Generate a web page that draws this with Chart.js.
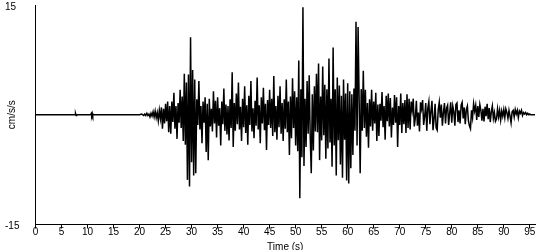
<!DOCTYPE html>
<html>
<head>
<meta charset="utf-8">
<script src="https://cdn.jsdelivr.net/npm/chart.js@4.4.1/dist/chart.umd.min.js"></script>
<style>
  body { margin: 0; background: #fff; }
  #wrap { width: 550px; height: 250px; }
</style>
</head>
<body>
<div id="wrap"><canvas id="myChart" width="550" height="250"></canvas></div>
<script>
// pre-event noise, read as (time, value) pairs
const quietTimes = [0, 7.6, 7.7, 7.8, 7.9, 10.6, 10.7, 10.8, 10.9, 11.0, 11.1, 20.0, 20.4, 20.8];
const quietValues = [0, 0, 0.15, -0.1, 0, 0, 0.15, -0.1, 0.2, -0.1, 0, 0, 0.1, -0.1];

// strong motion, one value every 0.2 s from 21 s
const strongStart = 21;
const strongStep = 0.2;
const strongValues = [
  0.1, -0.1, 0.2, -0.1, 0.1,
  -0.3, 0.2, -0.2, 0.4, -0.3,
  0.5, -0.4, 0.3, -0.8, 0.6,
  -0.5, 1.0, -1.9, 0.8, -1.2,
  1.5, -0.9, 1.8, -2.4, 1.2,
  -2.6, 1.8, -1.0, 3.0, -1.9,
  1.2, -3.3, 1.6, -1.1, 3.4,
  -1.8, 2.5, -3.6, 5.6, -4.1,
  4.4, -8.9, 5.5, -9.8, 10.6,
  -6.5, 6.1, -8.3, 4.8, -8.0,
  2.1, -1.4, 4.6, -2.0, 1.2,
  -3.9, 1.8, -1.1, 2.4, -5.1,
  1.5, -6.2, 2.2, -1.6, 0.8,
  -2.3, 3.2, -1.2, 1.9, -3.1,
  2.4, -1.5, 0.9, -4.2, 1.8,
  -1.3, 3.6, -2.2, 1.4, -2.7,
  1.2, -3.5, 2.1, -1.8, 5.8,
  -4.4, 1.6, -2.2, 2.9, -1.3,
  4.4, -2.0, 1.1, -3.6, 2.2,
  -1.7, 3.9, -2.5, 1.3, -4.1,
  2.6, -1.4, 4.6, -2.3, 0.9,
  -3.2, 1.9, -1.5, 5.1, -2.0,
  1.3, -3.9, 2.4, -1.2, 3.7,
  -2.1, 1.5, -4.8, 2.0, -1.4,
  3.4, -1.8, 2.2, -2.9, 5.3,
  -2.4, 1.2, -3.4, 2.6, -1.7,
  3.9, -2.6, 1.6, -3.6, 2.1,
  -1.9, 4.8, -2.4, 1.8, -5.5,
  2.5, -3.2, 5.0, -1.8, 3.2,
  -4.2, 2.4, -5.0, 7.4, -11.4,
  3.5, -5.8, 14.7, -7.0, 2.2,
  -4.4, 4.6, -2.6, 5.4, -3.0,
  -8.0, 2.8, -4.9, 3.9, -2.3,
  5.6, -2.4, 7.0, -6.2, 2.5,
  -3.5, 6.6, -2.8, 4.1, -6.0,
  3.5, -4.6, 7.7, -3.8, 2.2,
  -7.1, 9.2, -4.2, 3.5, -8.3,
  5.1, -3.5, 4.0, -6.8, 2.6,
  -8.6, 4.8, -3.4, 2.9, -9.0,
  4.3, -9.4, 3.2, -7.3, 2.8,
  -5.5, 3.6, -2.2, 12.7, -4.2,
  12.0, 2.2, -8.0, 3.5, -2.2,
  6.0, -1.8, 3.4, -3.0, 1.6,
  -4.5, 2.1, -1.6, 3.4, -2.2,
  1.8, -1.2, 3.0, -3.6, 1.4,
  -2.9, 1.5, -0.8, 3.1, -1.7,
  1.2, -3.4, 2.6, -0.9, 2.9,
  -1.6, 2.3, -3.1, 1.0, -1.4,
  2.7, -1.1, 2.4, -4.4, 1.2,
  -1.4, 2.9, -2.5, 1.6, -1.3,
  2.0, -2.5, 2.8, -1.8, 2.2,
  -2.0, 1.8, 0.6, 2.2, -1.6,
  -0.4, 1.9, -1.5, 0.3, -2.3,
  1.7, 0.8, 2.0, -1.4, -0.2,
  1.6, -2.2, 0.9, 1.8, -1.3,
  0.5, 1.9, -2.1, -0.6, 1.5,
  -1.8, -2.1, 0.7, 1.7, -0.4,
  1.4, -1.5, 0.3, 1.6, -1.2,
  0.9, 1.3, -1.4, 0.2, 1.7,
  -1.1, 1.2, 0.4, -1.5, 1.4,
  1.6, -1.0, 0.6, -1.2, 1.3,
  1.7, -0.5, 1.0, -1.3, 0.7,
  1.2, -0.8, -1.5, -1.9, 0.6,
  -0.4, 1.5, 0.5, 1.3, -0.7,
  1.2, -0.3, 1.4, 0.6, -0.8,
  0.8, -0.9, 1.1, -0.2, 1.5,
  -0.6, 0.9, -1.0, 0.4, 1.2,
  -0.5, 0.3, -0.9, -0.6, 0.8,
  -0.3, 0.6, -0.7, 0.5, -0.2,
  0.7, -0.4, 0.8, 0.3, -0.5,
  0.6, -0.2, -1.1, 0.4, 0.6,
  -0.3, 0.7, 0.1, 0.6, -0.4,
  0.5, 0.2, 0.6, -0.1, 0.3,
  0.1, 0.3, 0.0, 0.2, 0.0,
  0.1, 0.0, 0.0, 0.0, 0.0,
  0
];

const xTicks = [0, 5, 10, 15, 20, 25, 30, 35, 40, 45, 50, 55, 60, 65, 70, 75, 80, 85, 90, 95];
const yTicks = [-15, 15];
const xMin = 0;
const xMax = 96;

const points = [];
for (let i = 0; i < quietTimes.length; i++) {
  points.push({x: quietTimes[i], y: quietValues[i]});
}
for (let i = 0; i < strongValues.length; i++) {
  points.push({x: strongStart + i * strongStep, y: strongValues[i]});
}

const tickFont = {family: "'Liberation Sans Narrow', 'Liberation Sans', Arial, sans-serif", size: 10, lineHeight: 1};

const ctx = document.getElementById('myChart').getContext('2d');
const myChart = new Chart(ctx, {
  type: 'line',
  data: {
    datasets: [{
      data: points,
      borderColor: '#000',
      borderWidth: 1.5,
      pointRadius: 0,
      tension: 0,
      fill: false
    }]
  },
  options: {
    responsive: false,
    animation: false,
    devicePixelRatio: 1,
    layout: {padding: {left: 5, top: 5, right: 15, bottom: 0}},
    plugins: {legend: {display: false}, tooltip: {enabled: false}},
    scales: {
      x: {
        type: 'linear',
        min: xMin,
        max: xMax,
        afterBuildTicks: function(scale) {
          scale.ticks = xTicks.map(v => ({value: v}));
        },
        ticks: {color: '#000', font: tickFont, padding: -1, maxRotation: 0, autoSkip: false},
        grid: {drawOnChartArea: false, drawTicks: true, tickLength: 4, color: '#000', tickColor: '#000'},
        border: {display: true, color: '#000', width: 1},
        title: {display: true, text: 'Time (s)', color: '#000', font: tickFont, padding: {top: 0, bottom: -2.5}},
        afterFit: function(scale) {
          scale.height = 25.5;
          scale.paddingLeft = 0;
          scale.paddingRight = 0;
        }
      },
      y: {
        min: -15,
        max: 15,
        afterBuildTicks: function(scale) {
          scale.ticks = yTicks.map(v => ({value: v}));
        },
        ticks: {color: '#000', font: tickFont, crossAlign: 'far', padding: 0, labelOffset: 2},
        grid: {display: false},
        border: {display: true, color: '#000', width: 1},
        title: {display: true, text: 'cm/s/s', color: '#000', font: tickFont, padding: {top: 2, bottom: 0}},
        afterFit: function(scale) {
          scale.width = 30.5;
          scale.paddingTop = 0;
          scale.paddingBottom = 0;
        }
      }
    }
  }
});
</script>
</body>
</html>
